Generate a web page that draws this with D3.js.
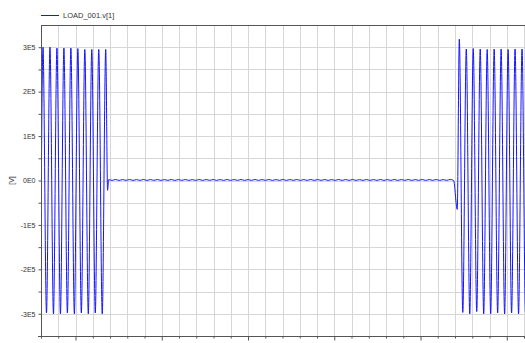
<!DOCTYPE html>
<html lang="en">
<head>
    <meta charset="UTF-8">
    <title>LOAD_001.v[1]</title>
    <script src="https://d3js.org/d3.v7.min.js"></script>
    <style>
        body { margin: 0; background: #fff; }
        text { font-family: "Liberation Sans", Arial, sans-serif; fill: #333; }
    </style>
</head>
<body>
    <div id="chart"></div>
    <script>
        // signal in three parts, values in V, time in minor-grid units
        const oscStep = 0.202;

        const leftLead = [[3.0, -1.0e5]];
        const leftStart = 3.116;
        const leftVals = [3.00e5, -2.98e5, 3.00e5, -3.00e5, 2.98e5, -3.00e5, 2.98e5, -2.98e5, 2.98e5, -3.00e5,
                          2.97e5, -2.98e5, 2.95e5, -3.00e5, 2.95e5, -2.98e5, 2.95e5, -3.00e5, 2.95e5];
        const leftTail = [[6.86, -0.22e5]];

        const midStart = 6.92;
        const midVals = [1800, 300, 2200, 200, 2100, 300, 2200, 200, 2000, 300,
                         2200, 200, 2100, 300, 2200, 200, 2000, 300, 2200, 200,
                         2100, 300, 2200, 200, 2000, 300, 2200, 200, 2100, 300,
                         2200, 200, 2000, 300, 2200, 200, 2100, 300, 2200, 200,
                         2000, 300, 2200, 200, 2100, 300, 2200, 200, 2000, 300,
                         2200, 200, 2100, 300, 2200, 200, 2000, 300, 2200, 200,
                         2100, 300, 2200, 200, 2000, 300, 2200, 200, 2100, 300,
                         2200, 200, 2000, 300, 2200, 200, 2100, 300, 2200, 200,
                         2000, 300, 2200, 200, 2100, 300, 2200, 200, 2000, 300,
                         2200, 200, 2100, 300, 2200, 200, 2000, 300, 2200, 200];

        const rightLead = [[27.13, -0.65e5]];
        const rightStart = 27.25;
        const rightVals = [3.18e5, -2.97e5, 2.96e5, -3.00e5, 2.97e5, -2.95e5, 2.96e5, -3.00e5, 2.95e5, -3.00e5,
                           2.96e5, -2.98e5, 2.96e5, -3.00e5, 2.95e5, -2.98e5, 2.96e5, -3.00e5, 2.96e5, -2.98e5,
                           2.95e5, -3.00e5, 2.96e5, -2.98e5];

        const yTickVals = [3e5, 2e5, 1e5, 0, -1e5, -2e5, -3e5];
        const yTickLabels = ["3E5", "2E5", "1E5", "0E0", "-1E5", "-2E5", "-3E5"];
        const seriesName = "LOAD_001.v[1]";
        const yTitle = "[V]";

        const W = 525, H = 343;
        const plot = { left: 41, top: 25, bottom: 336 };

        const svg = d3.select("#chart").append("svg")
            .attr("width", W)
            .attr("height", H)
            .style("display", "block");

        const x = d3.scaleLinear().domain([3, 32]).range([plot.left, plot.left + 29 * 17.25]);
        const y = d3.scaleLinear().domain([-3.5e5, 3.5e5]).range([plot.bottom, plot.top]);

        const crisp = v => Math.round(v) + 0.5;

        // grid
        const grid = svg.append("g").attr("stroke", "#d6d6d6").attr("stroke-width", 1);
        grid.selectAll(".gx")
            .data(d3.range(4, 32))
            .join("line")
            .attr("x1", d => crisp(x(d))).attr("x2", d => crisp(x(d)))
            .attr("y1", plot.top).attr("y2", plot.bottom);
        grid.selectAll(".gy")
            .data(d3.range(-6, 7).map(d => d * 0.5e5))
            .join("line")
            .attr("x1", plot.left).attr("x2", W)
            .attr("y1", d => crisp(y(d))).attr("y2", d => crisp(y(d)));

        // build the signal
        const series = [];
        leftLead.forEach(p => series.push(p));
        leftVals.forEach((v, i) => series.push([leftStart + i * oscStep, v]));
        leftTail.forEach(p => series.push(p));
        midVals.forEach((v, i) => series.push([midStart + i * oscStep, v]));
        rightLead.forEach(p => series.push(p));
        rightVals.forEach((v, i) => series.push([rightStart + i * oscStep, v]));

        svg.append("defs").append("clipPath").attr("id", "clip")
            .append("rect")
            .attr("x", plot.left).attr("y", plot.top - 10)
            .attr("width", W - plot.left).attr("height", plot.bottom - plot.top + 10);

        svg.append("path")
            .datum(series)
            .attr("clip-path", "url(#clip)")
            .attr("fill", "none")
            .attr("stroke", "#1414ff")
            .attr("stroke-width", 1)
            .attr("d", d3.line()
                .x(d => x(d[0]))
                .y(d => y(d[1]))
                .curve(d3.curveMonotoneX));

        // frame: top border, left axis, bottom axis
        const axisColor = "#555";
        svg.append("line")
            .attr("x1", plot.left).attr("x2", W)
            .attr("y1", crisp(plot.top)).attr("y2", crisp(plot.top))
            .attr("stroke", axisColor);

        const yAxis = svg.append("g")
            .attr("transform", `translate(${crisp(plot.left)},0)`)
            .call(d3.axisLeft(y)
                .tickValues(d3.range(-6, 7).map(d => d * 0.5e5))
                .tickSize(3)
                .tickFormat(d => {
                    const i = yTickVals.indexOf(d);
                    return i >= 0 ? yTickLabels[i] : "";
                }));
        yAxis.select(".domain").attr("stroke", axisColor).attr("d", `M0,${plot.top}V${plot.bottom}`);
        yAxis.selectAll(".tick line").attr("stroke", axisColor);
        yAxis.selectAll(".tick text")
            .attr("x", -6)
            .style("font-size", "7px")
            .style("font-family", "Liberation Sans, Arial, sans-serif")
            .attr("fill", "#333");

        const xAxis = svg.append("g")
            .attr("transform", `translate(0,${crisp(plot.bottom)})`)
            .call(d3.axisBottom(x)
                .tickValues(d3.range(3, 32))
                .tickSize(2)
                .tickFormat(""));
        xAxis.select(".domain").attr("stroke", axisColor).attr("d", `M${plot.left - 3},0H${W}`);
        xAxis.selectAll(".tick line")
            .attr("stroke", axisColor)
            .attr("y2", d => d % 5 === 0 ? 4 : 2);

        svg.append("text")
            .attr("transform", `translate(14,${y(0)}) rotate(-90)`)
            .attr("text-anchor", "middle")
            .style("font-size", "7px")
            .text(yTitle);

        // legend
        svg.append("line")
            .attr("x1", 41).attr("x2", 59)
            .attr("y1", 15.5).attr("y2", 15.5)
            .attr("stroke", "#1414ff");
        svg.append("text")
            .attr("x", 63).attr("y", 18)
            .style("font-size", "7.5px")
            .text(seriesName);
    </script>
</body>
</html>
